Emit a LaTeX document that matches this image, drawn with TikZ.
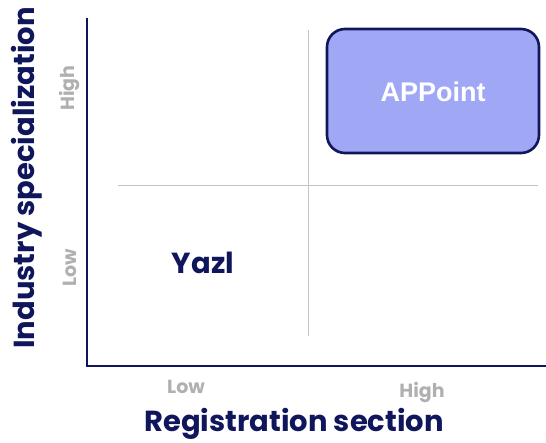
\documentclass[tikz,border=0pt]{standalone}
\usepackage{fontspec}
\setmainfont{Poppins}
\newfontfamily\arialb{Liberation Sans}[BoldFont={* Bold}]
\definecolor{navy}{RGB}{16,22,92}
\definecolor{boxfill}{RGB}{160,168,245}
\definecolor{lbl}{RGB}{176,176,176}
\definecolor{grid}{RGB}{196,196,196}
\tikzset{
  axisline/.style={navy, line width=1.3pt},
  gridline/.style={grid, line width=1pt},
  ticklbl/.style={lbl, font=\fontsize{19}{20}\selectfont\bfseries, inner sep=0pt},
  title/.style={navy, font=\fontsize{29}{30}\selectfont\bfseries, inner sep=0pt},
  quadbox/.style={draw=navy, fill=boxfill, line width=2.6pt, rounded corners=18pt},
}
\begin{document}
\begin{tikzpicture}[x=1pt,y=-1pt]
\useasboundingbox (0,0) rectangle (546,442);
\coordinate (o) at (87,366);
\coordinate (ytop) at (87,18);
\coordinate (xend) at (546,366);
\draw[axisline] (ytop) -- (o) -- (xend);
\coordinate (h1) at (118,185);
\coordinate (h2) at (538,185);
\coordinate (v1) at (308,30);
\coordinate (v2) at (308,336);
\draw[gridline] (h1) -- (h2);
\draw[gridline] (v1) -- (v2);
\draw[quadbox] (327,29) rectangle (539,153);
\node[white, font=\arialb\fontsize{27}{28}\selectfont\bfseries, inner sep=0pt] (app) at (433,92) {APPoint};
\node[navy, font=\fontsize{29}{30}\selectfont\bfseries, inner sep=0pt] (yazl) at (203,263) {Yazl};
\node[ticklbl] (xlow) at (186,387) {Low};
\node[ticklbl] (xhigh) at (422,392) {High};
\node[ticklbl, rotate=90] (yhigh) at (70,88) {High};
\node[ticklbl, rotate=90] (ylow) at (70,268) {Low};
\node[title] (xt) at (294,424) {Registration section};
\node[title, rotate=90] (yt) at (27,178) {Industry specialization};
\end{tikzpicture}
\end{document}
